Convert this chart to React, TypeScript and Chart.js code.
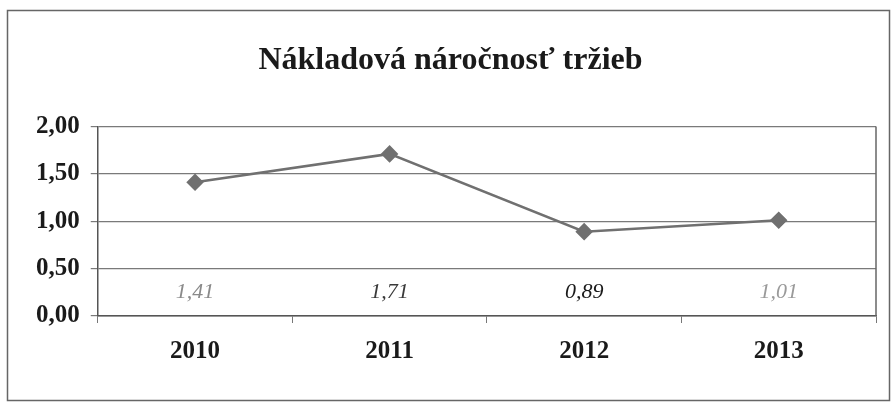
import React, { useEffect, useRef } from "react";
import { Chart, registerables } from "chart.js";

Chart.register(...registerables);

const title = "Nákladová náročnosť tržieb";
const categories = ["2010", "2011", "2012", "2013"];
const values = [1.41, 1.71, 0.89, 1.01];
const labelColors = ["#8a8a8a", "#3a3a3a", "#1a1a1a", "#9a9a9a"];
const yTicks = [0, 0.5, 1, 1.5, 2];

const fmt = (v: number) => v.toFixed(2).replace(".", ",");

const framePlugin = {
  id: "frame",
  beforeDraw(chart: any) {
    const ctx = chart.ctx;
    ctx.save();
    ctx.fillStyle = "#ffffff";
    ctx.fillRect(0, 0, chart.width, chart.height);
    ctx.strokeStyle = "#666666";
    ctx.lineWidth = 1.5;
    ctx.strokeRect(7.5, 10.5, 882, 390);
    ctx.restore();
  },
  afterDatasetsDraw(chart: any) {
    const ctx = chart.ctx;
    const a = chart.chartArea;
    const xs = chart.scales.x;
    const ys = chart.scales.y;
    ctx.save();
    ctx.strokeStyle = "#666666";
    ctx.lineWidth = 1.5;
    ctx.beginPath();
    ctx.moveTo(a.right, a.top);
    ctx.lineTo(a.right, a.bottom);
    ctx.stroke();
    ctx.font = "italic 22px 'Liberation Serif'";
    ctx.textAlign = "center";
    ctx.textBaseline = "middle";
    values.forEach((v, i) => {
      ctx.fillStyle = labelColors[i];
      ctx.fillText(fmt(v), xs.getPixelForValue(i), ys.getPixelForValue(0.25));
    });
    ctx.restore();
  },
};

export default function App() {
  const ref = useRef<HTMLCanvasElement | null>(null);
  useEffect(() => {
    if (!ref.current) return;
    const chart = new Chart(ref.current, {
      type: "line",
      data: {
        labels: categories,
        datasets: [
          {
            data: values,
            borderColor: "#707070",
            backgroundColor: "#707070",
            borderWidth: 2.5,
            pointStyle: "rectRot",
            pointRadius: 7,
            pointBackgroundColor: "#707070",
            pointBorderColor: "#707070",
            tension: 0,
          },
        ],
      },
      options: {
        animation: false,
        responsive: false,
        layout: { padding: { left: 25, right: 20, top: 42, bottom: 26 } },
        plugins: {
          legend: { display: false },
          tooltip: { enabled: false },
          title: {
            display: true,
            text: title,
            color: "#1a1a1a",
            font: { family: "'Liberation Serif'", size: 32, weight: "bold" },
            padding: { top: 0, bottom: 46 },
          },
        },
        scales: {
          x: {
            offset: true,
            grid: {
              offset: true,
              drawOnChartArea: false,
              drawTicks: true,
              tickLength: 7,
              color: "#777777",
            },
            border: { color: "#555555", width: 1.5 },
            ticks: {
              color: "#1a1a1a",
              padding: 14,
              font: { family: "'Liberation Serif'", size: 25, weight: "bold" },
            },
          },
          y: {
            min: 0,
            max: 2,
            afterBuildTicks: (s: any) => {
              s.ticks = yTicks.map((v) => ({ value: v }));
            },
            grid: { color: "#7a7a7a", lineWidth: 1.2, tickLength: 7 },
            border: { color: "#555555", width: 1.5 },
            ticks: {
              color: "#1a1a1a",
              padding: 11,
              callback: (v: any) => fmt(Number(v)),
              font: { family: "'Liberation Serif'", size: 25, weight: "bold" },
            },
          },
        },
      },
      plugins: [framePlugin],
    });
    return () => chart.destroy();
  }, []);
  return (
    <div style={{ position: "fixed", left: 0, top: 0 }}>
      <canvas ref={ref} width={896} height={407} style={{ display: "block" }} />
    </div>
  );
}
